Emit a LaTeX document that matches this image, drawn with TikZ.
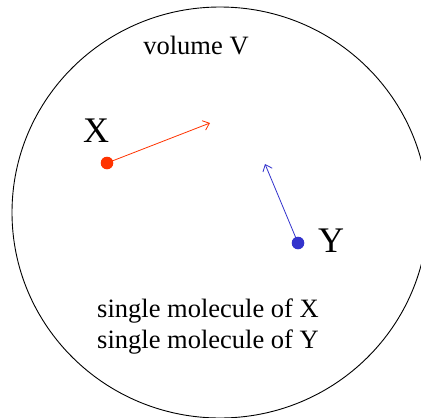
\documentclass[tikz,border=0pt]{standalone}
\usepackage{fontspec}
\setmainfont{Liberation Serif}
\usepackage{xcolor}
\usetikzlibrary{arrows.meta, positioning}
\definecolor{moleculeRed}{HTML}{FF3300}
\definecolor{moleculeBlue}{HTML}{3333CC}

\begin{document}
\begin{tikzpicture}[
  x=1pt, y=-1pt,
  every node/.style={font=\fontsize{26.5}{31}\selectfont},
  molecule/.style={circle, inner sep=0pt, minimum size=12.6pt},
  species/.style={font=\fontsize{36}{36}\selectfont, inner sep=0pt},
  velocity/.style={-{Straight Barb[length=6pt, width=10pt]}, line width=0.8pt}
]
\useasboundingbox (0,0) rectangle (421,418);

% the volume
\draw[line width=0.9pt] (220,212.5) ellipse[x radius=208pt, y radius=205.5pt];
\node (vol) at (196,46) {volume V};

% molecule X
\node[molecule, fill=moleculeRed] (mx) at (107,163) {};
\node[species] (lx) at (96,131) {X};
\coordinate (vx) at (210,123);

% molecule Y
\node[molecule, fill=moleculeBlue] (my) at (298,243) {};
\node[species] (ly) at (331,241) {Y};
\coordinate (vy) at (265,164);

\draw[velocity, draw=moleculeRed] (mx.center) -- (vx);
\draw[velocity, draw=moleculeBlue] (my.center) -- (vy);

\node[align=center] (caption) at (208,327) {single molecule of X\\single molecule of Y};
\end{tikzpicture}
\end{document}
